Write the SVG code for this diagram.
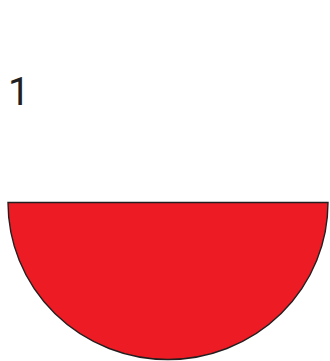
<svg xmlns="http://www.w3.org/2000/svg" width="330" height="361" viewBox="0 0 330 361">
<style>
.lbl{font-family:Roboto,"Liberation Sans",sans-serif;font-size:39px;fill:#231f20}
.shape{fill:#ED1C24;stroke:#231f20;stroke-width:1.4}
</style>
<rect width="330" height="361" fill="#fff"/>
<g id="label"><text class="lbl" x="8" y="105">1</text></g>
<g id="semicircle"><path class="shape" d="M8,202.5 H328 A160,157 0 0 1 8,202.5 Z"/></g>
</svg>
